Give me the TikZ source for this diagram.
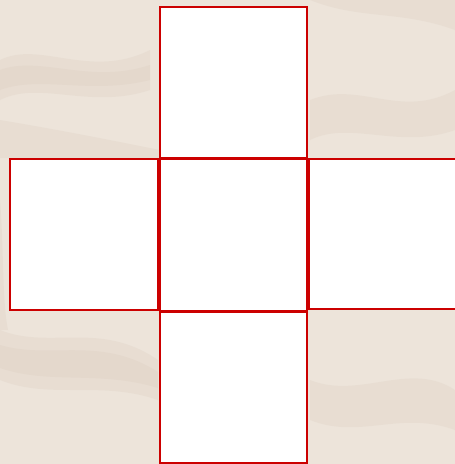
\documentclass[tikz,border=0pt]{standalone}
\definecolor{paper}{RGB}{237,228,218}
\definecolor{paperdark}{RGB}{210,194,178}
\definecolor{boxred}{RGB}{204,0,0}
\begin{document}
\begin{tikzpicture}[x=1pt,y=-1pt,
  cell/.style={draw=boxred,fill=white,line width=2.6pt,rectangle,inner sep=0pt,outer sep=0pt,anchor=north west},
  crease/.style={fill=paperdark,opacity=0.18}]
\useasboundingbox (0,0) rectangle (455,464);
\fill[paper] (0,0) rectangle (455,464);
% subtle crumples
\fill[crease] (0,60) .. controls (40,40) and (90,80) .. (150,50) -- (150,90) .. controls (90,110) and (40,80) .. (0,100) -- cycle;
\fill[crease] (0,70) .. controls (40,55) and (90,85) .. (150,65) -- (150,80) .. controls (90,95) and (40,75) .. (0,90) -- cycle;
\fill[crease] (0,120) .. controls (60,130) and (110,140) .. (160,150) -- (160,158) -- (0,158) -- cycle;
\fill[crease] (310,100) .. controls (360,80) and (400,120) .. (455,90) -- (455,130) .. controls (400,150) and (350,120) .. (310,140) -- cycle;
\fill[crease] (0,330) .. controls (50,350) and (100,320) .. (158,360) -- (158,400) .. controls (100,380) and (50,400) .. (0,380) -- cycle;
\fill[crease] (0,345) .. controls (50,360) and (100,335) .. (158,372) -- (158,388) .. controls (100,370) and (50,385) .. (0,368) -- cycle;
\fill[crease] (310,380) .. controls (360,400) and (410,360) .. (455,390) -- (455,430) .. controls (400,410) and (360,440) .. (310,420) -- cycle;
\fill[crease] (310,0) .. controls (360,20) and (400,10) .. (455,30) -- (455,0) -- cycle;
\fill[crease] (0,200) .. controls (4,250) and (2,300) .. (8,330) -- (0,330) -- cycle;
\node[cell,minimum width=147pt,minimum height=151pt] (top) at (160,7) {};
\node[cell,minimum width=148pt,minimum height=151pt] (left) at (10,159) {};
\node[cell,minimum width=151pt,minimum height=150pt] (right) at (309,159) {};
\node[cell,minimum width=147pt,minimum height=151pt] (bottom) at (160,312) {};
\node[cell,minimum width=147pt,minimum height=152pt] (center) at (160,159) {};
\end{tikzpicture}
\end{document}
